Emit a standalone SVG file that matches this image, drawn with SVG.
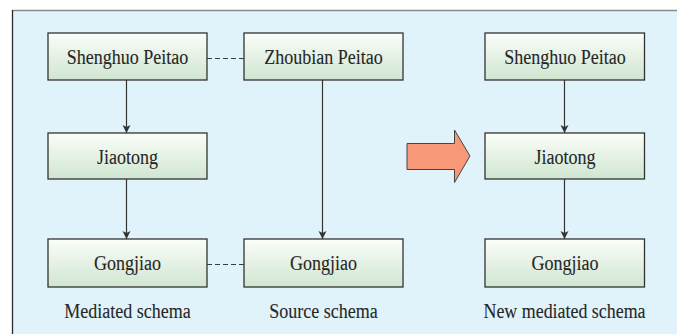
<svg xmlns="http://www.w3.org/2000/svg" width="677" height="334" viewBox="0 0 677 334">
<defs>
<linearGradient id="g" x1="0" y1="0" x2="0" y2="1">
<stop offset="0" stop-color="#fbfdf9"/>
<stop offset="1" stop-color="#cfe6d0"/>
</linearGradient>
<marker id="ah" viewBox="0 0 8 10" refX="8" refY="5" markerWidth="8" markerHeight="10" markerUnits="userSpaceOnUse" orient="auto">
<path d="M0,1 L8,5 L0,9 L2,5 Z" fill="#333"/>
</marker>
<style>
.box{fill:url(#g);stroke:#333;stroke-width:1.3}
.t{font-family:'Liberation Serif','DejaVu Serif',serif;font-size:20px;fill:#262626;stroke:#262626;stroke-width:0.1;text-anchor:middle}
.ln{stroke:#333;stroke-width:1.2;fill:none}
.ds{stroke:#3a3a3a;stroke-width:1.2;stroke-dasharray:5 3;fill:none}
</style>
</defs>
<rect x="0" y="0" width="677" height="334" fill="#ffffff"/>
<rect x="12" y="10" width="670" height="330" fill="#e1f3fa"/>
<line x1="12" y1="10.5" x2="677" y2="10.5" stroke="#8a8a8a" stroke-width="1.5"/>
<line x1="12.5" y1="10" x2="12.5" y2="334" stroke="#2a2a2a" stroke-width="1.3"/>
<g id="connectors">
<line class="ln" x1="126.5" y1="80" x2="126.5" y2="133" marker-end="url(#ah)"/>
<line class="ln" x1="126.5" y1="179" x2="126.5" y2="239" marker-end="url(#ah)"/>
<line class="ln" x1="322.5" y1="80" x2="322.5" y2="239" marker-end="url(#ah)"/>
<line class="ln" x1="564.5" y1="80" x2="564.5" y2="133" marker-end="url(#ah)"/>
<line class="ln" x1="564.5" y1="179" x2="564.5" y2="239" marker-end="url(#ah)"/>
<line class="ds" x1="207" y1="58.5" x2="244" y2="58.5"/>
<line class="ds" x1="207" y1="264.5" x2="244" y2="264.5"/>
</g>
<g id="bigarrow">
<polygon points="407,143.5 454.5,143.5 454.5,130 470,156 454.5,182.5 454.5,169.5 407,169.5" fill="#f79878" stroke="#444" stroke-width="1"/>
</g>
<g id="m-shenghuo"><rect class="box" x="48" y="33" width="159" height="47"/><text class="t" x="127.5" y="64" textLength="121.5" lengthAdjust="spacingAndGlyphs">Shenghuo Peitao</text></g>
<g id="m-jiaotong"><rect class="box" x="48" y="133" width="159" height="46"/><text class="t" x="127.5" y="163.5" textLength="61" lengthAdjust="spacingAndGlyphs">Jiaotong</text></g>
<g id="m-gongjiao"><rect class="box" x="48" y="239" width="159" height="48"/><text class="t" x="127.5" y="270" textLength="67" lengthAdjust="spacingAndGlyphs">Gongjiao</text></g>
<g id="s-zhoubian"><rect class="box" x="244" y="33" width="159" height="47"/><text class="t" x="323.5" y="64" textLength="118.5" lengthAdjust="spacingAndGlyphs">Zhoubian Peitao</text></g>
<g id="s-gongjiao"><rect class="box" x="244" y="239" width="159" height="48"/><text class="t" x="323.5" y="270" textLength="67" lengthAdjust="spacingAndGlyphs">Gongjiao</text></g>
<g id="n-shenghuo"><rect class="box" x="485" y="33" width="159.5" height="47"/><text class="t" x="565" y="64" textLength="121.5" lengthAdjust="spacingAndGlyphs">Shenghuo Peitao</text></g>
<g id="n-jiaotong"><rect class="box" x="485" y="133" width="159.5" height="46"/><text class="t" x="565" y="163.5" textLength="61" lengthAdjust="spacingAndGlyphs">Jiaotong</text></g>
<g id="n-gongjiao"><rect class="box" x="485" y="239" width="159.5" height="48"/><text class="t" x="565" y="270" textLength="67" lengthAdjust="spacingAndGlyphs">Gongjiao</text></g>
<g id="labels">
<text class="t" x="127.5" y="318" textLength="126.5" lengthAdjust="spacingAndGlyphs">Mediated schema</text>
<text class="t" x="323.5" y="318" textLength="108.5" lengthAdjust="spacingAndGlyphs">Source schema</text>
<text class="t" x="564.5" y="318" textLength="162" lengthAdjust="spacingAndGlyphs">New mediated schema</text>
</g>
</svg>
